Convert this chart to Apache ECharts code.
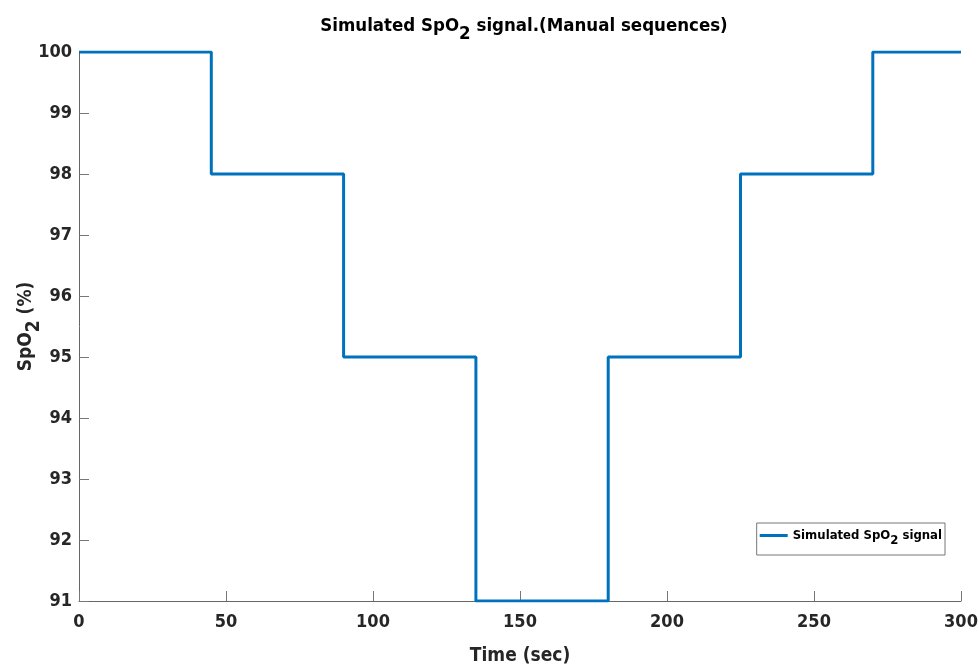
<!DOCTYPE html>
<html><head><meta charset="utf-8">
<script src="https://cdn.jsdelivr.net/npm/echarts@6/dist/echarts.min.js"></script>
<style>html,body{margin:0;padding:0;background:#fff}#c{width:979px;height:666px}</style>
</head><body><div id="c"></div>
<script>
const times = [0, 45, 90, 135, 180, 225, 270, 300];
const spo2 = [100, 98, 95, 91, 95, 98, 100, 100];
const xTicks = [0, 50, 100, 150, 200, 250, 300];
const yTicks = [91, 92, 93, 94, 95, 96, 97, 98, 99, 100];
const seriesName = 'Simulated SpO2 signal';

const FONT = '"DejaVu Sans Condensed", "Liberation Sans Narrow", sans-serif';
const chart = echarts.init(document.getElementById('c'));
chart.setOption({
  animation: false,
  title: {
    text: '{a|Simulated SpO}{s|2}{a| signal.(Manual sequences)}',
    left: 519, top: 4, textAlign: 'center',
    textStyle: {rich: {
      a: {fontFamily: FONT, fontWeight: 'bold', fontSize: 18.5, color: '#000'},
      s: {fontFamily: FONT, fontWeight: 'bold', fontSize: 18.5, color: '#000', padding: [16, 0, 0, 0]}
    }}
  },
  grid: {left: 79, right: 18, top: 52, bottom: 65, outerBoundsMode: 'none', containLabel: false},
  legend: {
    right: 34, top: 523,
    orient: 'vertical',
    data: [seriesName],
    itemWidth: 28, itemHeight: 3,
    itemGap: 4,
    backgroundColor: '#fff',
    borderColor: '#777', borderWidth: 1, borderRadius: 0,
    padding: [6, 3, 8, 3],
    icon: 'rect',
    formatter: () => '{a|Simulated SpO}{s|2}{a| signal}',
    textStyle: {rich: {
      a: {fontFamily: FONT, fontWeight: 'bold', fontSize: 13, color: '#000'},
      s: {fontFamily: FONT, fontWeight: 'bold', fontSize: 13, color: '#000', padding: [10, 0, 0, 0]}
    }}
  },
  xAxis: {
    type: 'value', min: 0, max: 300, interval: 50,
    name: 'Time (sec)', nameLocation: 'middle', nameGap: 46,
    nameTextStyle: {fontFamily: FONT, fontWeight: 'bold', fontSize: 19, color: '#262626'},
    axisLine: {lineStyle: {color: '#666', width: 1}},
    axisTick: {inside: true, length: 10, lineStyle: {color: '#777'}},
    axisLabel: {fontFamily: FONT, fontWeight: 'bold', fontSize: 18, color: '#262626', margin: 12,
      formatter: v => xTicks.includes(v) ? String(v) : ''},
    splitLine: {show: false}
  },
  yAxis: {
    type: 'value', min: 91, max: 100, interval: 1,
    name: '{a|SpO}{s|2}{a| (%)}', nameLocation: 'middle', nameGap: 35, nameMoveOverlap: false,
    nameTextStyle: {rich: {
      a: {fontFamily: FONT, fontWeight: 'bold', fontSize: 19, color: '#262626'},
      s: {fontFamily: FONT, fontWeight: 'bold', fontSize: 19, color: '#262626', padding: [16, 0, 0, 0]}
    }},
    axisLine: {show: true, lineStyle: {color: '#666', width: 1}},
    axisTick: {show: true, inside: true, length: 10, lineStyle: {color: '#777'}},
    axisLabel: {fontFamily: FONT, fontWeight: 'bold', fontSize: 18, color: '#262626', margin: 7,
      formatter: v => yTicks.includes(v) ? String(v) : ''},
    splitLine: {show: false}
  },
  series: [{
    name: seriesName, type: 'line', step: 'end', showSymbol: false,
    data: times.map((t, i) => [t, spo2[i]]),
    lineStyle: {color: '#0072BD', width: 3},
    itemStyle: {color: '#0072BD'}
  }]
});
</script></body></html>
